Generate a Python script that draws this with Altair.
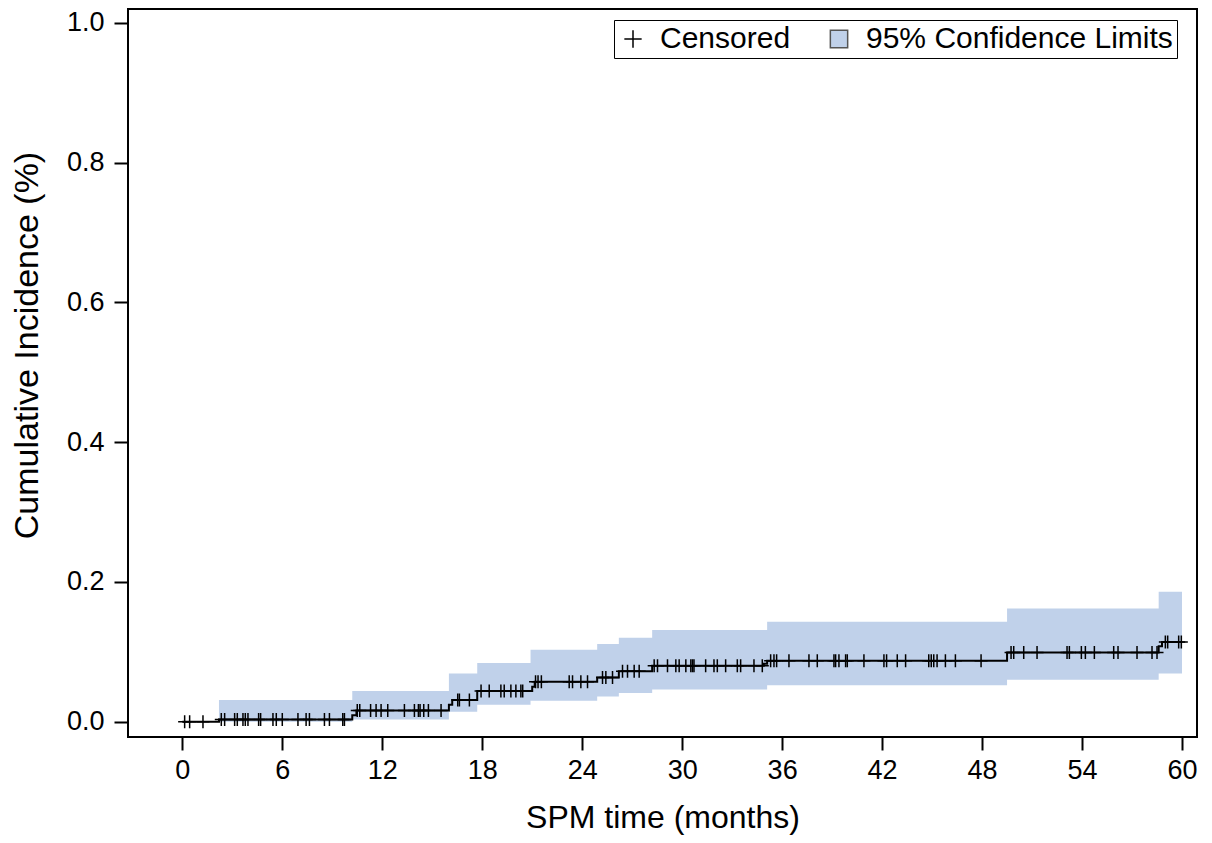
import altair as alt
import numpy as np
import pandas as pd

# Step function of cumulative incidence (event times and values)
event_t = [0.0, 2.2, 10.2, 10.45, 16.0, 16.2, 17.7, 21.0, 21.15, 24.9, 26.2, 28.2,
           34.9, 35.1, 49.5, 58.6, 58.8, 60.0]
event_cif = [0.0, 0.003, 0.009, 0.016, 0.024, 0.031, 0.044, 0.050, 0.057, 0.063, 0.072,
             0.080, 0.083, 0.087, 0.099, 0.108, 0.114, 0.114]

# 95% confidence band (step)
band_t = [2.2, 10.2, 16.0, 17.7, 20.9, 24.9, 26.2, 28.2, 35.1, 49.5, 58.6, 60.0]
band_lo = [0.0, 0.003, 0.014, 0.024, 0.030, 0.036, 0.041, 0.046, 0.052, 0.060, 0.069, 0.069]
band_hi = [0.031, 0.044, 0.069, 0.084, 0.103, 0.111, 0.120, 0.131, 0.143, 0.162, 0.186, 0.186]

# Censored times
cens_t = [0.14, 0.44, 1.24, 2.34, 2.54, 3.14, 3.30, 3.64, 3.78, 3.94, 4.58, 4.70, 5.44,
          5.64, 6.0, 6.94, 7.43, 7.63, 8.53, 8.83, 9.63, 9.73, 10.5, 10.65, 11.3, 11.63,
          11.93, 12.33, 13.33, 13.93, 14.17, 14.27, 14.49, 14.77, 15.53, 16.53, 16.63,
          17.23, 17.93, 18.42, 19.12, 19.32, 19.72, 20.02, 20.32, 20.43, 21.2, 21.35,
          21.55, 23.22, 23.42, 23.92, 24.32, 25.22, 25.42, 25.82, 26.42, 26.72, 27.12,
          27.42, 28.32, 28.52, 29.12, 29.62, 29.82, 30.22, 30.52, 30.62, 30.71, 31.41,
          31.91, 32.11, 32.61, 33.31, 33.51, 34.31, 34.81, 35.31, 35.51, 35.67, 36.41,
          37.61, 38.11, 39.11, 39.21, 39.41, 39.81, 39.91, 40.91, 42.11, 42.27, 42.91,
          43.41, 44.80, 44.95, 45.10, 45.30, 45.80, 46.40, 47.94, 49.74, 49.90, 50.5,
          51.3, 53.1, 53.24, 53.96, 54.2, 54.74, 55.9, 56.16, 57.3, 58.2, 58.5, 59.0,
          59.14, 59.8, 59.96]

x_ticks = list(range(0, 61, 6))
y_ticks = [0.0, 0.2, 0.4, 0.6, 0.8, 1.0]
legend_items = ["Censored", "95% Confidence Limits"]

# censored marks sit on the curve
idx = np.searchsorted(np.array(event_t), np.array(cens_t), side="right") - 1
cens_y = [event_cif[i] for i in idx]

curve_df = pd.DataFrame({"t": event_t, "cif": event_cif})
band_df = pd.DataFrame({"t": band_t, "lo": band_lo, "hi": band_hi})
cens_df = pd.DataFrame({"t": cens_t, "cif": cens_y, "kind": "Censored"})

FONT = "Liberation Sans"
xscale = alt.Scale(domain=[-3.26, 60.9], nice=False, zero=False)
yscale = alt.Scale(domain=[-0.022, 1.02], nice=False, zero=False)

xaxis = alt.Axis(values=x_ticks, title="SPM time (months)", format="d",
                 titleFontSize=32, titlePadding=19)
yaxis = alt.Axis(values=y_ticks, title="Cumulative Incidence (%)", format=".1f",
                 titleFontSize=34, titlePadding=22, titleY=336)

band = alt.Chart(band_df).mark_area(interpolate="step-after", color="#c0d1ea", opacity=1).encode(
    x=alt.X("t:Q", scale=xscale, axis=xaxis),
    y=alt.Y("lo:Q", scale=yscale, axis=yaxis),
    y2="hi:Q",
)

line = alt.Chart(curve_df).mark_line(interpolate="step-after", color="black", strokeWidth=2).encode(
    x=alt.X("t:Q", scale=xscale),
    y=alt.Y("cif:Q", scale=yscale),
)

plus_path = "M-1,0H1M0,-1V1"
leg = alt.Legend(title=None, orient="none", legendX=486, legendY=11)
cens = alt.Chart(cens_df).mark_point(size=169, strokeWidth=1.5, opacity=1).encode(
    x=alt.X("t:Q", scale=xscale),
    y=alt.Y("cif:Q", scale=yscale),
    shape=alt.Shape("kind:N", scale=alt.Scale(domain=legend_items, range=[plus_path, "square"]),
                    legend=leg),
    fill=alt.Fill("kind:N", scale=alt.Scale(domain=legend_items, range=["transparent", "#c0d1ea"]),
                  legend=leg),
    stroke=alt.Stroke("kind:N", scale=alt.Scale(domain=legend_items, range=["black", "#555555"]),
                      legend=leg),
)

chart = alt.layer(band, line, cens).properties(
    width=1069,
    height=728,
    autosize=alt.AutoSizeParams(type="none"),
    padding={"left": 120, "top": 1, "right": 7, "bottom": 100},
).configure_view(
    stroke="black", strokeWidth=2
).configure_axis(
    domain=False, grid=False,
    tickColor="black", tickWidth=2,
    labelFont=FONT, labelFontSize=27, labelColor="black",
    titleFont=FONT, titleColor="black", titleFontWeight="normal",
).configure_axisX(
    tickSize=13, labelPadding=7,
).configure_axisY(
    tickSize=14, labelPadding=10,
).configure_legend(
    direction="horizontal",
    strokeColor="black", fillColor="white", padding=4,
    labelFont=FONT, labelFontSize=30, labelColor="black", labelOffset=12, labelLimit=600,
    symbolSize=300, symbolStrokeWidth=1.5, columnPadding=33,
)

chart.save("out.html", embed_options={"renderer": "svg", "actions": False})
